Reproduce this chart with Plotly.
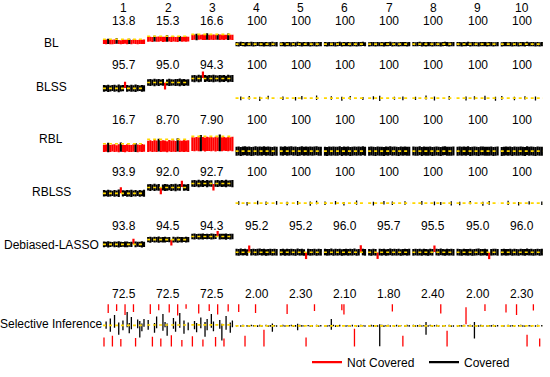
import plotly.graph_objects as go

# ---------------- data ----------------
columns = ["1", "2", "3", "4", "5", "6", "7", "8", "9", "10"]
methods = ["BL", "BLSS", "RBL", "RBLSS", "Debiased-LASSO", "Selective Inference"]
truth = [1.0, 1.6, 2.0, 0, 0, 0, 0, 0, 0, 0]

coverage = [
    ["13.8", "15.3", "16.6", "100", "100", "100", "100", "100", "100", "100"],
    ["95.7", "95.0", "94.3", "100", "100", "100", "100", "100", "100", "100"],
    ["16.7", "8.70", "7.90", "100", "100", "100", "100", "100", "100", "100"],
    ["93.9", "92.0", "92.7", "100", "100", "100", "100", "100", "100", "100"],
    ["93.8", "94.5", "94.3", "95.2", "95.2", "96.0", "95.7", "95.5", "95.0", "96.0"],
    ["72.5", "72.5", "72.5", "2.00", "2.30", "2.10", "1.80", "2.40", "2.00", "2.30"],
]

bl_lo = [
    [0.02,-0.03,0.05,0.00,-0.02,0.04,0.08,0.01,-0.04,0.03,0.06,0.00,0.02,-0.01,0.07,0.03,-0.02,0.05,0.01,0.04],
    [0.48,0.52,0.44,0.55,0.50,0.47,0.58,0.43,0.51,0.49,0.56,0.46,0.53,0.50,0.45,0.57,0.49,0.52,0.47,0.54],
    [0.85,0.90,0.82,0.88,0.93,0.86,0.84,0.91,0.87,0.89,0.83,0.92,0.88,0.85,0.90,0.87,0.94,0.86,0.89,0.84],
    [-0.42,-0.46,-0.39,-0.44,-0.48,-0.41,-0.45,-0.40,-0.47,-0.43,-0.38,-0.45,-0.42,-0.49,-0.41,-0.44,-0.46,-0.40,-0.43,-0.47],
    [-0.45,-0.41,-0.47,-0.40,-0.44,-0.48,-0.42,-0.46,-0.39,-0.43,-0.47,-0.41,-0.45,-0.40,-0.46,-0.42,-0.44,-0.48,-0.41,-0.43],
    [-0.43,-0.47,-0.40,-0.45,-0.41,-0.46,-0.44,-0.39,-0.48,-0.42,-0.45,-0.40,-0.47,-0.43,-0.41,-0.46,-0.42,-0.44,-0.39,-0.45],
    [-0.46,-0.42,-0.44,-0.48,-0.40,-0.45,-0.43,-0.47,-0.41,-0.44,-0.39,-0.46,-0.42,-0.45,-0.48,-0.41,-0.43,-0.40,-0.46,-0.44],
    [-0.41,-0.45,-0.43,-0.39,-0.47,-0.42,-0.46,-0.44,-0.40,-0.48,-0.43,-0.41,-0.45,-0.47,-0.42,-0.39,-0.44,-0.46,-0.43,-0.40],
    [-0.44,-0.40,-0.46,-0.42,-0.45,-0.39,-0.47,-0.43,-0.41,-0.45,-0.48,-0.42,-0.40,-0.44,-0.46,-0.43,-0.41,-0.47,-0.45,-0.42],
    [-0.47,-0.43,-0.41,-0.45,-0.42,-0.48,-0.40,-0.44,-0.46,-0.41,-0.43,-0.47,-0.39,-0.45,-0.42,-0.44,-0.48,-0.41,-0.46,-0.43],
]
bl_hi = [
    [0.88,0.93,1.12,0.85,0.90,0.95,1.21,0.87,0.82,0.94,0.91,0.89,1.08,0.86,0.97,0.92,0.84,0.96,0.90,0.93],
    [1.48,1.52,1.44,1.71,1.50,1.55,1.46,1.53,1.49,1.83,1.45,1.51,1.56,1.47,1.50,1.68,1.52,1.48,1.54,1.49],
    [1.91,1.95,2.12,1.88,1.93,1.96,1.90,2.21,1.94,1.89,1.97,1.92,2.08,1.95,1.91,1.93,1.90,2.15,1.94,1.92],
    [0.44,0.40,0.47,0.42,0.38,0.45,0.41,0.48,0.43,0.39,0.46,0.42,0.44,0.37,0.45,0.41,0.43,0.47,0.40,0.44],
    [0.41,0.45,0.39,0.46,0.42,0.38,0.44,0.40,0.47,0.43,0.39,0.45,0.41,0.46,0.40,0.44,0.42,0.38,0.45,0.43],
    [0.43,0.39,0.46,0.41,0.45,0.40,0.42,0.47,0.38,0.44,0.41,0.46,0.39,0.43,0.45,0.40,0.44,0.42,0.47,0.41],
    [0.40,0.44,0.42,0.38,0.46,0.41,0.43,0.39,0.45,0.42,0.47,0.40,0.44,0.41,0.38,0.45,0.43,0.46,0.40,0.42],
    [0.45,0.41,0.43,0.47,0.39,0.44,0.40,0.42,0.46,0.38,0.43,0.45,0.41,0.39,0.44,0.47,0.42,0.40,0.43,0.46],
    [0.42,0.46,0.40,0.44,0.41,0.47,0.39,0.43,0.45,0.41,0.38,0.44,0.46,0.42,0.40,0.43,0.45,0.39,0.41,0.44],
    [0.39,0.43,0.45,0.41,0.44,0.38,0.46,0.42,0.40,0.45,0.43,0.39,0.47,0.41,0.44,0.42,0.38,0.45,0.40,0.43],
]

blss_lo = [
    [0.66,0.70,0.63,0.68,0.72,0.65,0.69,0.61,0.67,0.71,1.03,0.64,0.70,0.66,0.68,0.62,0.69,0.73,0.65,0.67],
    [1.27,1.24,1.30,1.22,1.28,1.25,1.31,1.26,0.88,1.29,1.23,1.27,1.30,1.24,1.26,1.21,1.28,1.25,1.29,1.27],
    [1.66,1.63,1.69,1.62,1.67,2.04,1.65,1.70,1.64,1.68,1.61,1.66,1.69,1.63,1.67,1.65,1.71,1.62,1.68,1.64],
    [0,0,-0.21,0,0,0,-0.15,0,0,0,0,-0.28,0,0,0,-0.12,0,0,0,0],
    [0,-0.18,0,0,0,0,0,-0.24,0,0,-0.13,0,0,0,0,0,0,-0.20,0,0],
    [0,0,0,-0.17,0,0,0,0,-0.26,0,0,0,-0.14,0,0,0,0,0,-0.19,0],
    [0,0,-0.14,0,0,-0.30,0,0,0,0,0,0,-0.17,0,0,0,-0.22,0,0,0],
    [0,-0.20,0,0,0,0,-0.13,0,0,0,-0.25,0,0,0,0,0,0,-0.16,0,0],
    [0,0,0,0,-0.23,0,0,0,-0.15,0,0,0,0,-0.19,0,0,0,0,-0.27,0],
    [-0.16,0,0,0,0,0,-0.21,0,0,0,0,-0.14,0,0,0,0,-0.25,0,0,0],
]
blss_hi = [
    [1.34,1.31,1.37,1.30,1.33,1.36,1.29,1.38,1.32,1.35,1.68,1.33,1.30,1.36,1.31,1.39,1.34,1.28,1.35,1.32],
    [1.93,1.96,1.90,1.97,1.92,1.95,1.89,1.94,1.56,1.91,1.98,1.93,1.90,1.96,1.94,1.99,1.92,1.95,1.91,1.93],
    [2.34,2.37,2.31,2.38,2.33,2.71,2.35,2.30,2.36,2.32,2.39,2.34,2.31,2.37,2.33,2.35,2.29,2.38,2.32,2.36],
    [0,0,0.18,0,0,0,0.22,0,0,0,0,0.14,0,0,0,0.25,0,0,0,0],
    [0,0.16,0,0,0,0,0,0.12,0,0,0.21,0,0,0,0,0,0,0.27,0,0],
    [0,0,0,0.20,0,0,0,0,0.15,0,0,0,0.23,0,0,0,0,0,0.11,0],
    [0,0,0.19,0,0,0.24,0,0,0,0,0,0,0.13,0,0,0,0.18,0,0,0],
    [0,0.14,0,0,0,0,0.26,0,0,0,0.17,0,0,0,0,0,0,0.21,0,0],
    [0,0,0,0,0.16,0,0,0,0.20,0,0,0,0,0.24,0,0,0,0,0.13,0],
    [0.22,0,0,0,0,0,0.15,0,0,0,0,0.19,0,0,0,0,0.17,0,0,0],
]

rbl_lo = [
    [-0.12,-0.08,-0.15,-0.10,-0.05,-0.13,-0.09,-0.14,-0.07,-0.11,-0.16,-0.06,-0.12,-0.10,-0.08,-0.13,-0.15,-0.09,-0.11,-0.07],
    [-0.10,-0.06,-0.13,-0.08,-0.11,-0.04,-0.12,-0.09,-0.07,-0.14,-0.05,-0.10,-0.08,-0.12,-0.06,-0.11,-0.09,-0.13,-0.07,-0.10],
    [0.02,-0.03,0.05,0.00,-0.02,0.04,-0.05,0.01,0.03,-0.01,0.06,-0.04,0.02,0.00,-0.03,0.05,0.01,-0.02,0.04,0.00],
    [-0.62,-0.58,-0.65,-0.60,-0.56,-0.63,-0.59,-0.66,-0.61,-0.57,-0.64,-0.60,-0.62,-0.55,-0.63,-0.59,-0.61,-0.65,-0.58,-0.62],
    [-0.59,-0.63,-0.57,-0.64,-0.60,-0.56,-0.62,-0.58,-0.65,-0.61,-0.57,-0.63,-0.59,-0.64,-0.58,-0.62,-0.60,-0.56,-0.63,-0.61],
    [-0.61,-0.65,-0.58,-0.63,-0.59,-0.64,-0.62,-0.57,-0.66,-0.60,-0.63,-0.58,-0.65,-0.61,-0.59,-0.64,-0.60,-0.62,-0.57,-0.63],
    [-0.64,-0.60,-0.62,-0.66,-0.58,-0.63,-0.61,-0.65,-0.59,-0.62,-0.57,-0.64,-0.60,-0.63,-0.66,-0.59,-0.61,-0.58,-0.64,-0.62],
    [-0.59,-0.63,-0.61,-0.57,-0.65,-0.60,-0.64,-0.62,-0.58,-0.66,-0.61,-0.59,-0.63,-0.65,-0.60,-0.57,-0.62,-0.64,-0.61,-0.58],
    [-0.62,-0.58,-0.64,-0.60,-0.63,-0.57,-0.65,-0.61,-0.59,-0.63,-0.66,-0.60,-0.58,-0.62,-0.64,-0.61,-0.59,-0.65,-0.63,-0.60],
    [-0.65,-0.61,-0.59,-0.63,-0.60,-0.66,-0.58,-0.62,-0.64,-0.59,-0.61,-0.65,-0.57,-0.63,-0.60,-0.62,-0.66,-0.59,-0.64,-0.61],
]
rbl_hi = [
    [0.86,0.91,1.13,0.83,0.89,0.94,0.80,0.92,1.18,0.87,0.85,0.95,0.88,0.82,0.93,1.09,0.90,0.84,0.96,0.89],
    [1.42,1.47,1.38,1.51,1.44,1.70,1.40,1.49,1.45,1.36,1.52,1.43,1.48,1.39,1.76,1.46,1.41,1.50,1.44,1.47],
    [1.90,1.86,1.93,1.88,2.21,1.91,1.85,1.94,1.89,1.92,1.87,1.95,1.90,2.26,1.88,1.93,1.86,1.91,1.89,1.94],
    [0.60,0.64,0.57,0.62,0.66,0.59,0.63,0.56,0.61,0.65,0.58,0.62,0.60,0.67,0.59,0.63,0.61,0.57,0.64,0.60],
    [0.63,0.59,0.65,0.58,0.62,0.66,0.60,0.64,0.57,0.61,0.65,0.59,0.63,0.58,0.64,0.60,0.62,0.66,0.59,0.61],
    [0.61,0.57,0.64,0.59,0.63,0.58,0.60,0.65,0.56,0.62,0.59,0.64,0.57,0.61,0.63,0.58,0.62,0.60,0.65,0.59],
    [0.58,0.62,0.60,0.56,0.64,0.59,0.61,0.57,0.63,0.60,0.65,0.58,0.62,0.59,0.56,0.63,0.61,0.64,0.58,0.60],
    [0.63,0.59,0.61,0.65,0.57,0.62,0.58,0.60,0.64,0.56,0.61,0.63,0.59,0.57,0.62,0.65,0.60,0.58,0.61,0.64],
    [0.60,0.64,0.58,0.62,0.59,0.65,0.57,0.61,0.63,0.59,0.56,0.62,0.64,0.60,0.58,0.61,0.63,0.57,0.59,0.62],
    [0.57,0.61,0.63,0.59,0.62,0.56,0.64,0.60,0.58,0.63,0.61,0.57,0.65,0.59,0.62,0.60,0.56,0.63,0.58,0.61],
]

rblss_lo = [
    [0.67,0.71,0.64,0.69,0.73,0.66,0.70,0.62,1.02,0.68,0.72,0.65,0.69,0.63,0.71,0.67,0.74,0.66,0.70,0.64],
    [1.28,1.25,1.31,1.23,1.29,1.26,0.91,1.30,1.24,1.27,1.32,1.25,1.28,1.22,1.29,1.26,1.64,1.27,1.30,1.24],
    [1.67,1.64,1.70,1.62,1.68,1.65,1.71,1.63,1.69,1.66,1.30,1.67,1.64,1.70,1.65,1.68,1.62,1.69,1.66,1.63],
    [0,-0.17,0,0,0,-0.24,0,0,0,0,-0.13,0,0,0,-0.20,0,0,0,0,-0.15],
    [0,0,0,-0.22,0,0,0,0,-0.16,0,0,0,0,0,-0.27,0,0,-0.12,0,0],
    [-0.19,0,0,0,0,-0.14,0,0,0,-0.23,0,0,0,0,0,-0.17,0,0,0,0],
    [0,0,-0.25,0,0,0,0,-0.13,0,0,0,-0.20,0,0,0,0,0,-0.16,0,0],
    [0,0,0,0,-0.15,0,0,0,0,0,-0.21,0,0,-0.18,0,0,0,0,-0.24,0],
    [0,-0.22,0,0,0,0,-0.12,0,0,0,0,0,-0.26,0,0,-0.17,0,0,0,0],
    [0,0,0,-0.18,0,0,0,0,-0.23,0,0,0,0,-0.14,0,0,0,0,0,-0.20],
]
rblss_hi = [
    [1.33,1.29,1.36,1.31,1.27,1.34,1.30,1.38,1.61,1.32,1.28,1.35,1.31,1.37,1.29,1.33,1.26,1.34,1.30,1.36],
    [1.92,1.95,1.89,1.97,1.91,1.94,1.57,1.90,1.96,1.93,1.88,1.95,1.92,1.98,1.91,1.94,2.27,1.93,1.90,1.96],
    [2.33,2.36,2.30,2.38,2.32,2.35,2.29,2.37,2.31,2.34,1.96,2.33,2.36,2.30,2.35,2.32,2.38,2.31,2.34,2.37],
    [0,0.20,0,0,0,0.13,0,0,0,0,0.25,0,0,0,0.16,0,0,0,0,0.22],
    [0,0,0,0.15,0,0,0,0,0.21,0,0,0,0,0,0.18,0,0,0.24,0,0],
    [0.16,0,0,0,0,0.22,0,0,0,0.13,0,0,0,0,0,0.26,0,0,0,0],
    [0,0,0.14,0,0,0,0,0.23,0,0,0,0.17,0,0,0,0,0,0.20,0,0],
    [0,0,0,0,0.23,0,0,0,0,0,0.16,0,0,0.12,0,0,0,0,0.19,0],
    [0,0.14,0,0,0,0,0.21,0,0,0,0,0,0.15,0,0,0.23,0,0,0,0],
    [0,0,0,0.25,0,0,0,0,0.13,0,0,0,0,0.20,0,0,0,0,0,0.17],
]

deb_lo = [
    [0.64,0.69,0.61,0.67,0.72,0.63,0.68,0.60,0.66,0.70,0.65,0.62,0.71,0.67,1.04,0.63,0.69,0.66,0.61,0.68],
    [1.26,1.22,1.29,1.24,1.27,1.21,1.28,1.25,1.23,1.30,1.26,0.86,1.24,1.28,1.22,1.27,1.25,1.29,1.23,1.26],
    [1.65,1.62,1.68,1.63,1.66,1.61,1.69,1.64,1.67,1.62,1.65,1.68,2.03,1.63,1.66,1.64,1.60,1.67,1.63,1.66],
    [-0.41,-0.44,-0.38,-0.43,-0.40,-0.45,0.03,-0.42,-0.39,-0.44,-0.41,-0.37,-0.43,-0.40,-0.46,-0.42,-0.39,-0.44,-0.41,-0.43],
    [-0.43,-0.39,-0.45,-0.41,-0.44,-0.40,-0.42,-0.46,-0.38,-0.43,-0.41,-0.45,-0.87,-0.40,-0.44,-0.42,-0.39,-0.45,-0.41,-0.43],
    [-0.40,-0.44,-0.42,-0.38,-0.45,-0.41,-0.43,-0.39,-0.46,-0.42,-0.40,-0.44,-0.41,-0.43,-0.38,-0.45,-0.42,0.02,-0.40,-0.44],
    [-0.42,-0.46,-0.40,-0.43,-0.85,-0.41,-0.44,-0.39,-0.45,-0.42,-0.38,-0.44,-0.41,-0.43,-0.40,-0.46,-0.42,-0.39,-0.44,-0.41],
    [-0.44,-0.40,-0.43,-0.41,-0.45,-0.39,-0.42,-0.46,-0.40,-0.43,0.04,-0.41,-0.44,-0.38,-0.42,-0.45,-0.40,-0.43,-0.41,-0.44],
    [-0.41,-0.43,-0.45,-0.39,-0.42,-0.44,-0.40,-0.46,-0.43,-0.41,-0.38,-0.44,-0.42,-0.40,-0.45,-0.88,-0.43,-0.41,-0.39,-0.44],
    [-0.43,-0.40,-0.44,-0.42,-0.39,-0.45,-0.41,-0.43,-0.46,-0.40,-0.42,-0.44,-0.38,-0.43,-0.41,-0.45,-0.42,-0.40,-0.44,-0.41],
]
deb_hi = [
    [1.36,1.32,1.39,1.34,1.29,1.37,1.33,1.40,1.35,1.31,1.38,1.36,1.30,1.34,1.72,1.37,1.32,1.35,1.39,1.33],
    [1.94,1.98,1.91,1.96,1.93,1.99,1.92,1.95,1.97,1.90,1.94,1.57,1.96,1.92,1.98,1.93,1.95,1.91,1.97,1.94],
    [2.35,2.38,2.32,2.37,2.34,2.39,2.31,2.36,2.33,2.38,2.35,2.32,2.72,2.37,2.34,2.36,2.40,2.33,2.37,2.34],
    [0.43,0.40,0.46,0.41,0.44,0.39,0.86,0.42,0.45,0.40,0.43,0.47,0.41,0.44,0.38,0.42,0.45,0.40,0.43,0.41],
    [0.41,0.45,0.39,0.43,0.40,0.44,0.42,0.38,0.46,0.41,0.43,0.39,-0.04,0.44,0.40,0.42,0.45,0.39,0.43,0.41],
    [0.44,0.40,0.42,0.46,0.39,0.43,0.41,0.45,0.38,0.42,0.44,0.40,0.43,0.41,0.46,0.39,0.42,0.88,0.44,0.40],
    [0.42,0.38,0.44,0.41,-0.03,0.43,0.40,0.45,0.39,0.42,0.46,0.40,0.43,0.41,0.44,0.38,0.42,0.45,0.40,0.43],
    [0.40,0.44,0.41,0.43,0.39,0.45,0.42,0.38,0.44,0.41,0.87,0.43,0.40,0.46,0.42,0.39,0.44,0.41,0.43,0.40],
    [0.43,0.41,0.39,0.45,0.42,0.40,0.44,0.38,0.41,0.43,0.46,0.40,0.42,0.44,0.39,-0.05,0.41,0.43,0.45,0.40],
    [0.41,0.44,0.40,0.42,0.45,0.39,0.43,0.41,0.38,0.44,0.42,0.40,0.46,0.41,0.43,0.39,0.42,0.44,0.40,0.43],
]

si_lo = [
    [-90,-6,26,-12,-90,-4,30,-18,-90,-9,22,-3,-15,-7,28,-90,-5,-24,-11,-2],
    [-8,24,-90,-14,-5,32,-90,-10,-3,-20,27,-90,-6,-12,21,-4,-90,-16,35,-9],
    [-90,-7,-13,25,-5,-90,-22,-9,30,-4,-11,-90,23,-6,-30,-90,-8,29,-14,-3],
    [-1.5,28,-2.0,-1.2,-90,-1.8,-2.4,-1.0,-1.6,26,-2.2,-1.4,-1.9,-90,-1.1,-2.6,-1.7,-12,-1.3,-2.0],
    [-1.8,-1.2,-2.1,24,-1.5,-1.0,-2.4,-1.7,-9,-1.3,-2.0,-1.6,-90,-1.1,-2.3,-1.9,30,-1.4,-2.2,-1.2],
    [-1.3,-2.0,-1.6,-8,-1.1,-2.2,-1.8,-1.4,32,23,-2.1,-1.5,-1.9,-1.2,-90,-1.7,-2.4,-1.0,-1.6,-2.0],
    [-1.7,-1.2,-2.0,-1.5,-1.9,-42,-1.3,-2.2,-1.6,-1.1,-2.1,29,-1.8,-1.4,-2.3,-1.0,-90,-1.7,-1.2,-2.0],
    [-1.4,-2.1,-1.7,-1.2,-2.0,-1.5,-18,-1.9,-1.1,-2.3,-1.6,-1.3,-2.0,25,-1.8,-1.2,-90,-1.5,-2.2,-1.7],
    [-2.0,-1.4,-1.8,-1.1,3,-1.6,-1.3,-1.9,-26,-1.5,-2.1,-1.2,-1.7,30,-2.0,-1.4,-1.8,-1.0,-2.3,-1.6],
    [-1.5,-2.0,27,-1.2,-1.8,-1.4,-2.1,22,-1.6,-1.1,-1.9,-2.3,-90,-1.3,-1.7,31,-2.0,-1.5,-90,-1.2],
]
si_hi = [
    [-24,9,90,15,-20,22,90,7,-27,11,90,28,6,18,90,-25,13,10,5,14],
    [12,90,-22,6,19,90,-26,24,8,5,90,-19,16,9,90,26,-29,11,90,7],
    [-21,10,6,90,17,-28,8,14,90,24,9,-23,90,12,4,-26,20,90,7,11],
    [1.8,90,1.2,2.1,-20,1.5,1.0,2.3,1.7,90,1.4,2.0,1.1,-8,2.2,1.3,1.9,5,1.6,1.2],
    [1.4,2.0,1.1,90,1.7,2.2,1.3,1.9,4,2.1,1.5,1.2,-24,1.8,1.0,1.6,90,2.3,1.3,1.9],
    [1.9,1.2,1.5,14,2.1,1.3,1.6,2.0,90,90,1.1,1.8,1.4,2.2,-6,1.5,1.0,2.3,1.7,1.3],
    [1.3,2.0,1.6,1.9,1.1,3,2.2,1.4,1.8,2.3,1.2,90,1.5,2.1,1.0,1.7,-20,1.4,2.0,1.6],
    [2.0,1.3,1.6,2.2,1.1,1.8,8,1.4,2.1,1.2,1.7,2.0,1.5,90,1.3,1.9,-10,2.2,1.4,1.1],
    [1.2,1.9,1.5,2.1,38,1.7,2.0,1.1,8,1.8,1.4,2.2,1.6,90,1.2,1.9,1.5,2.3,1.1,1.7],
    [1.7,1.2,90,2.0,1.4,1.9,1.1,90,1.6,2.2,1.3,1.0,-18,1.8,1.5,90,1.2,2.1,-26,1.6],
]

lows = [bl_lo, blss_lo, rbl_lo, rblss_lo, deb_lo, si_lo]
highs = [bl_hi, blss_hi, rbl_hi, rblss_hi, deb_hi, si_hi]

# ---------------- layout geometry (pixels) ----------------
W, H = 550, 377
N = 20
STEP = N + 1
PANEL_LEFT = 104.0
PANEL_PITCH = 44.2
PX_UNIT = PANEL_PITCH / STEP
x_range = [-1, 10 * STEP - 1]
x_left = PANEL_LEFT - PX_UNIT
x_dom_px = [x_left, x_left + (x_range[1] - x_range[0]) * PX_UNIT]

# per row: zero-line px, px per unit, numbers y px, label y px,
# line width of dense panels, line width of sparse panels
rows_geo = [
    dict(z=45, s=5.0, num=21, lab=44, lw=2.2, lw_sparse=2.2),
    dict(z=100, s=10.0, num=66, lab=89, lw=2.2, lw_sparse=1.3),
    dict(z=154, s=7.5, num=122, lab=142, lw=2.2, lw_sparse=2.2),
    dict(z=207, s=10.0, num=175, lab=196, lw=2.2, lw_sparse=1.3),
    dict(z=257, s=8.0, num=230, lab=250, lw=2.2, lw_sparse=2.2),
    dict(z=332, s=0.5, num=300, lab=330, lw=1.3, lw_sparse=1.3, top=310, bottom=353),
]
HEADER_Y = 8
LABEL_X = 51
LEGEND_X = 307
LEGEND_Y = 369

RED = "#FF0000"
BLACK = "#000000"
YELLOW = "#FFD700"
FONT = "Liberation Sans, Arial, Helvetica, sans-serif"


def py(v):
    return 1 - v / H


fig = go.Figure()
layout = dict()
annotations = []

for r, geo in enumerate(rows_geo):
    k = "" if r == 0 else str(r + 1)
    xa, ya = "x" + k, "y" + k
    # segments grouped by (colour, dense/sparse panel group)
    segs = {("r", 0): ([], []), ("r", 1): ([], []), ("b", 0): ([], []), ("b", 1): ([], [])}
    for j in range(10):
        b = truth[j]
        grp = 0 if j < 3 else 1
        for i in range(N):
            lo, hi = lows[r][j][i], highs[r][j][i]
            if lo is None or hi is None:
                continue
            xi = j * STEP + i
            key = ("b" if lo <= b <= hi else "r", grp)
            segs[key][0].extend([xi, xi, None])
            segs[key][1].extend([lo, hi, None])
    tx, ty = [], []
    for j in range(10):
        tx += [j * STEP - 0.5, j * STEP + N - 0.5, None]
        ty += [truth[j], truth[j], None]

    for col, name, color, lg in [("r", "Not Covered", RED, "nc"), ("b", "Covered", BLACK, "c")]:
        for grp in (0, 1):
            xs, ys = segs[(col, grp)]
            width = geo["lw"] if grp == 0 else geo["lw_sparse"]
            fig.add_trace(go.Scatter(x=xs, y=ys, mode="lines", line=dict(color=color, width=width),
                                     name=name, legendgroup=lg, showlegend=(r == 0 and grp == 0),
                                     xaxis=xa, yaxis=ya, hoverinfo="skip"))
    fig.add_trace(go.Scatter(x=tx, y=ty, mode="lines", line=dict(color=YELLOW, width=1.6, dash="3px,3px"),
                             showlegend=False, xaxis=xa, yaxis=ya, hoverinfo="skip"))

    top = geo.get("top", geo["z"] - 30)
    bottom = geo.get("bottom", geo["z"] + 12)
    ylo = -(bottom - geo["z"]) / geo["s"]
    yhi = (geo["z"] - top) / geo["s"]
    layout["xaxis" + k] = dict(domain=[x_dom_px[0] / W, x_dom_px[1] / W], range=x_range,
                               visible=False, anchor=ya, fixedrange=True)
    layout["yaxis" + k] = dict(domain=[py(bottom), py(top)], range=[ylo, yhi],
                               visible=False, anchor=xa, fixedrange=True)

    for j in range(10):
        annotations.append(dict(x=j * STEP + (N - 1) / 2, y=py(geo["num"]), xref=xa, yref="paper",
                                text=coverage[r][j], showarrow=False, xanchor="center", yanchor="middle",
                                font=dict(size=12, color="black", family=FONT)))
        if r == 0:
            annotations.append(dict(x=j * STEP + (N - 1) / 2, y=py(HEADER_Y), xref=xa, yref="paper",
                                    text=columns[j], showarrow=False, xanchor="center", yanchor="middle",
                                    font=dict(size=12, color="black", family=FONT)))
    annotations.append(dict(x=LABEL_X / W, y=py(geo["lab"]), xref="paper", yref="paper",
                            text=methods[r], showarrow=False, xanchor="center", yanchor="middle",
                            font=dict(size=12, color="black", family=FONT)))

fig.update_layout(
    width=W, height=H,
    margin=dict(l=0, r=0, t=0, b=0),
    paper_bgcolor="white", plot_bgcolor="rgba(0,0,0,0)",
    showlegend=True,
    legend=dict(orientation="h", x=LEGEND_X / W, y=py(LEGEND_Y), xanchor="left", yanchor="middle",
                font=dict(size=12, color="black", family=FONT), bgcolor="rgba(0,0,0,0)",
                itemwidth=30, traceorder="normal", entrywidth=72, entrywidthmode="pixels"),
    annotations=annotations,
    hovermode=False,
    **layout,
)

# the page's default body margin would push the figure 8px in; remove it
fig.write_html("out.html", config={"displayModeBar": False},
               post_script="document.body.style.margin='0px';")
